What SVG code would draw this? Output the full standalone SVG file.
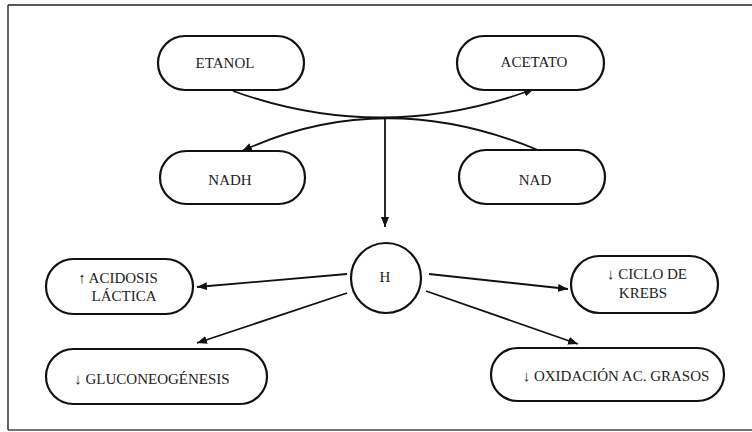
<svg xmlns="http://www.w3.org/2000/svg" width="752" height="432" viewBox="0 0 752 432">
  <style>
    .box { fill: #ffffff; stroke: #111111; stroke-width: 2.2; }
    .lbl { font-family: "Liberation Serif", "DejaVu Serif", serif; font-size: 15px; fill: #222222; text-anchor: middle; }
    .edge { fill: none; stroke: #111111; stroke-width: 1.8; }
    .frame { fill: none; stroke: #222222; stroke-width: 1.4; }
    .frame-base { fill: none; stroke: #444444; stroke-width: 1.3; }
  </style>
  <defs>
    <marker id="arrow" viewBox="0 0 10 8" refX="10" refY="4" markerWidth="10" markerHeight="8" markerUnits="userSpaceOnUse" orient="auto">
      <path d="M0,0 L10,4 L0,8 z" fill="#111111"/>
    </marker>
  </defs>

  <rect width="752" height="432" fill="#ffffff"/>

  <!-- outer frame -->
  <g id="frame">
    <path class="frame" d="M8,5 L752,5 M8,5 L8,430"/>
    <path class="frame-base" d="M8,430 L752,430"/>
  </g>

  <!-- connectors -->
  <g id="connectors">
    <path class="edge" d="M233,91 Q383,145 534,89" marker-end="url(#arrow)"/>
    <path class="edge" d="M538,150 Q383,86 242,151" marker-end="url(#arrow)"/>
    <path class="edge" d="M385,118 L385,227" marker-end="url(#arrow)"/>
    <path class="edge" d="M347,274 L197,287" marker-end="url(#arrow)"/>
    <path class="edge" d="M347,293 L197,343" marker-end="url(#arrow)"/>
    <path class="edge" d="M429,274 L568,289" marker-end="url(#arrow)"/>
    <path class="edge" d="M426,291 L578,344" marker-end="url(#arrow)"/>
  </g>

  <g id="etanol">
    <rect class="box" x="158" y="36" width="146" height="54" rx="27"/>
    <text class="lbl" x="225" y="68">ETANOL</text>
  </g>
  <g id="acetato">
    <rect class="box" x="457" y="36" width="147" height="54" rx="27"/>
    <text class="lbl" x="534" y="67">ACETATO</text>
  </g>
  <g id="nadh">
    <rect class="box" x="160" y="151" width="145" height="53" rx="26.5"/>
    <text class="lbl" x="230" y="185">NADH</text>
  </g>
  <g id="nad">
    <rect class="box" x="459" y="150" width="146" height="54" rx="27"/>
    <text class="lbl" x="535" y="185">NAD</text>
  </g>
  <g id="h">
    <circle class="box" cx="386" cy="278" r="35"/>
    <text class="lbl" x="385" y="282">H</text>
  </g>
  <g id="acidosis">
    <rect class="box" x="46" y="259" width="147" height="55" rx="27.5"/>
    <text class="lbl" x="118" y="283">↑ ACIDOSIS</text>
    <text class="lbl" x="124" y="301">LÁCTICA</text>
  </g>
  <g id="krebs">
    <rect class="box" x="571" y="256" width="147" height="57" rx="28.5"/>
    <text class="lbl" x="647" y="279">↓ CICLO DE</text>
    <text class="lbl" x="643" y="298">KREBS</text>
  </g>
  <g id="gluconeogenesis">
    <rect class="box" x="46" y="349" width="221" height="55" rx="27.5"/>
    <text class="lbl" x="152" y="384">↓ GLUCONEOGÉNESIS</text>
  </g>
  <g id="oxidacion">
    <rect class="box" x="491" y="348" width="233" height="53" rx="26.5"/>
    <text class="lbl" x="616" y="381">↓ OXIDACIÓN AC. GRASOS</text>
  </g>
</svg>
